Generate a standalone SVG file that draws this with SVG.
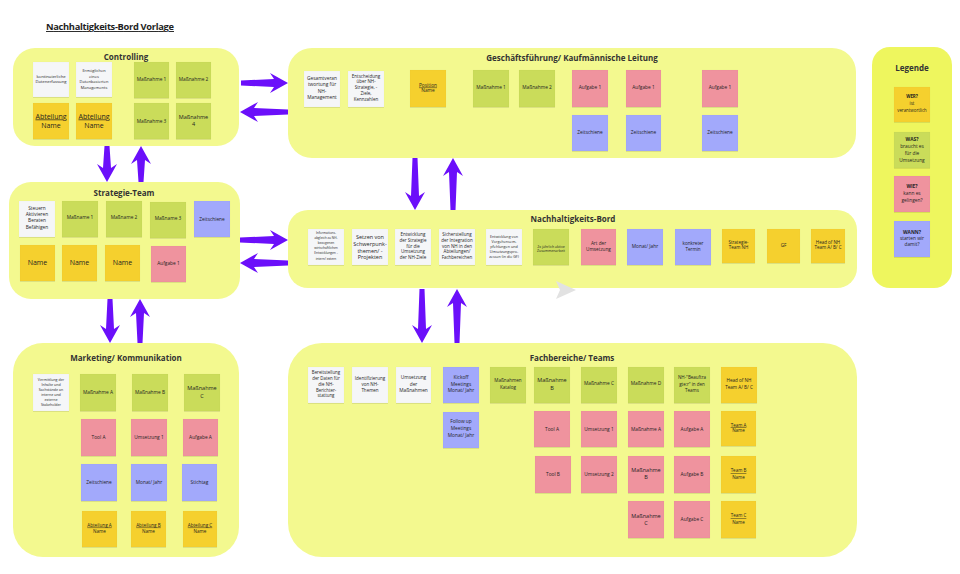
<svg xmlns="http://www.w3.org/2000/svg" width="960" height="574" viewBox="0 0 960 574">
<defs>
<filter id="sh" x="-10%" y="-10%" width="120%" height="130%"><feDropShadow dx="0" dy="0.6" stdDeviation="0.5" flood-color="#000" flood-opacity="0.15"/></filter>
<style>
.c{fill:#f3f98f}
.lg{fill:#eef65e}
.s{filter:url(#sh);stroke:rgba(0,0,0,0.05);stroke-width:0.4}
.w{fill:#f5f6f8}
.y{fill:#f5d02f}
.g{fill:#cadc5a}
.p{fill:#ef939e}
.b{fill:#a2a9fb}
text{font-family:"Open Sans","Liberation Sans",sans-serif;fill:#1f1f1f}
.t{text-anchor:middle;font-size:4.8px}
.h{font-size:8px;font-weight:700;text-anchor:middle;fill:#333}
.u{text-decoration:underline}
.bd{font-weight:700}
.arr{fill:#6b0ffa}
</style>
</defs>
<rect width="960" height="574" fill="#fff"/>
<text x="46" y="30" font-size="9.3" font-weight="700" fill="#333" text-decoration="underline" textLength="128">Nachhaltigkeits-Bord Vorlage</text>

<g id="controlling">
<rect class="c" x="13" y="48" width="226" height="98" rx="22"/>
<text class="h" x="126" y="60">Controlling</text>
<rect class="s w" x="33" y="62" width="36" height="35"/>
<text class="t" style="font-size:4.2px"><tspan x="51" y="77.7">kontinuierliche</tspan><tspan x="51" y="83.1">Datenerfassung</tspan></text>
<rect class="s w" x="76" y="62" width="36" height="35"/>
<text class="t" style="font-size:4px"><tspan x="94" y="72.4">Ermöglichen</tspan><tspan x="94" y="77.7">eines</tspan><tspan x="94" y="83.1">Datenbasierten</tspan><tspan x="94" y="88.7">Managements</tspan></text>
<rect class="s y" x="33" y="103" width="36" height="36"/>
<text class="t" style="font-size:7px"><tspan class="u" x="51" y="118.5">Abteilung</tspan><tspan x="51" y="127.5">Name</tspan></text>
<rect class="s y" x="76" y="103" width="36" height="36"/>
<text class="t" style="font-size:7px"><tspan class="u" x="94" y="118.5">Abteilung</tspan><tspan x="94" y="127.5">Name</tspan></text>
<rect class="s g" x="134" y="62" width="35" height="36"/>
<text class="t" x="151.5" y="81.2">Maßnahme 1</text>
<rect class="s g" x="176" y="62" width="35" height="36"/>
<text class="t" x="193.5" y="81.2">Maßnahme 2</text>
<rect class="s g" x="134" y="103" width="35" height="36"/>
<text class="t" x="151.5" y="122.6">Maßnahme 3</text>
<rect class="s g" x="176" y="103" width="35" height="36"/>
<text class="t" style="font-size:5.5px"><tspan x="193.5" y="118.6">Maßnahme</tspan><tspan x="193.5" y="126.2">4</tspan></text>
</g>

<g id="geschaeftsfuehrung">
<rect class="c" x="288" y="48" width="568" height="110" rx="24"/>
<text class="h" x="572" y="61">Geschäftsführung/ Kaufmännische Leitung</text>
<rect class="s w" x="304" y="71" width="36" height="36"/>
<text class="t"><tspan x="322" y="80">Gesamtveran</tspan><tspan x="322" y="86.4">twortung für</tspan><tspan x="322" y="92.7">NH-</tspan><tspan x="322" y="99">Management</tspan></text>
<rect class="s w" x="348" y="71" width="36" height="36"/>
<text class="t" style="font-size:4.5px"><tspan x="366" y="77.5">Entscheidung</tspan><tspan x="366" y="83.3">über NH-</tspan><tspan x="366" y="89.2">Strategie, -</tspan><tspan x="366" y="95">Ziele,</tspan><tspan x="366" y="100.8">Kennzahlen</tspan></text>
<rect class="s y" x="410" y="70" width="36" height="37"/>
<text class="t"><tspan class="u" x="428" y="86.6">Position</tspan><tspan x="428" y="92.3">Name</tspan></text>
<rect class="s g" x="473" y="70" width="36" height="37"/>
<text class="t" x="491" y="89.4">Maßnahme 1</text>
<rect class="s g" x="519" y="70" width="36" height="37"/>
<text class="t" x="537" y="89.4">Maßnahme 2</text>
<rect class="s p" x="572" y="70" width="36" height="37"/>
<text class="t" x="590" y="89.4">Aufgabe 1</text>
<rect class="s p" x="626" y="70" width="35" height="37"/>
<text class="t" x="643.5" y="89.4">Aufgabe 1</text>
<rect class="s p" x="702" y="70" width="36" height="37"/>
<text class="t" x="720" y="89.4">Aufgabe 1</text>
<rect class="s b" x="572" y="115" width="36" height="36"/>
<text class="t" x="590" y="134.4">Zeitschiene</text>
<rect class="s b" x="626" y="115" width="35" height="36"/>
<text class="t" x="643.5" y="134.4">Zeitschiene</text>
<rect class="s b" x="702" y="115" width="36" height="36"/>
<text class="t" x="720" y="134.4">Zeitschiene</text>
</g>

<g id="strategie-team">
<rect class="c" x="9" y="182" width="231" height="117" rx="22"/>
<text class="h" x="124" y="196">Strategie-Team</text>
<rect class="s w" x="19" y="201" width="36" height="36"/>
<text class="t"><tspan x="37" y="209.9">Steuern</tspan><tspan x="37" y="215.9">Aktivieren</tspan><tspan x="37" y="222.3">Beraten</tspan><tspan x="37" y="228.9">Befähigen</tspan></text>
<rect class="s g" x="62" y="201" width="36" height="36"/>
<text class="t" x="80" y="219.4">Maßname 1</text>
<rect class="s g" x="106" y="201" width="36" height="36"/>
<text class="t" x="124" y="219.4">Maßname 2</text>
<rect class="s g" x="150" y="202" width="36" height="36"/>
<text class="t" x="168" y="220.4">Maßname 3</text>
<rect class="s b" x="194" y="201" width="36" height="36"/>
<text class="t" x="212" y="220.7">Zeitschiene</text>
<rect class="s y" x="20" y="245" width="35" height="36"/>
<text class="t" style="font-size:7px" x="37.5" y="264.8">Name</text>
<rect class="s y" x="62" y="245" width="35" height="36"/>
<text class="t" style="font-size:7px" x="79.5" y="264.8">Name</text>
<rect class="s y" x="105" y="245" width="35" height="36"/>
<text class="t" style="font-size:7px" x="122.5" y="264.8">Name</text>
<rect class="s p" x="151" y="246" width="35" height="36"/>
<text class="t" x="168.5" y="265.4">Aufgabe 1</text>
</g>

<g id="nachhaltigkeits-bord">
<rect class="c" x="288" y="210" width="569" height="78" rx="20"/>
<text class="h" x="573" y="222">Nachhaltigkeits-Bord</text>
<polygon points="556,281 576,290 556,299 560,290" fill="#e2e2e2"/>
<rect class="s w" x="308" y="229" width="36" height="36"/>
<text class="t" style="font-size:3.2px"><tspan x="326" y="233.5">Informations-</tspan><tspan x="326" y="238.7">abgleich zu NH-</tspan><tspan x="326" y="243.9">bezogenen</tspan><tspan x="326" y="249.1">wirtschaftlichen</tspan><tspan x="326" y="254.3">Entwicklungen -</tspan><tspan x="326" y="259.5">intern/ extern</tspan></text>
<rect class="s w" x="352" y="229" width="36" height="36"/>
<text class="t" style="font-size:5.5px"><tspan x="370" y="239.2">Setzen von</tspan><tspan x="370" y="245.9">Schwerpunk-</tspan><tspan x="370" y="252.6">themen/ -</tspan><tspan x="370" y="259.2">Projekten</tspan></text>
<rect class="s w" x="395" y="229" width="36" height="36"/>
<text class="t" style="font-size:4.5px"><tspan x="413" y="235.8">Entwicklung</tspan><tspan x="413" y="241.5">der Strategie</tspan><tspan x="413" y="247.5">für die</tspan><tspan x="413" y="253.2">Umsetzung</tspan><tspan x="413" y="259.2">der NH-Ziele</tspan></text>
<rect class="s w" x="439" y="229" width="36" height="36"/>
<text class="t" style="font-size:4.5px"><tspan x="457" y="235.8">Sicherstellung</tspan><tspan x="457" y="241.5">der Integration</tspan><tspan x="457" y="247.5">von NH in den</tspan><tspan x="457" y="253.2">Abteilungen/</tspan><tspan x="457" y="259.2">Fachbereichen</tspan></text>
<rect class="s w" x="486" y="229" width="36" height="36"/>
<text class="t" style="font-size:3.7px"><tspan x="504" y="237.9">Entwicklung von</tspan><tspan x="504" y="242.9">Vorgehensem-</tspan><tspan x="504" y="247.9">pfehlungen und</tspan><tspan x="504" y="252.9">Umsetzungspro-</tspan><tspan x="504" y="257.9">zessen (in die GF)</tspan></text>
<rect class="s g" x="533" y="229" width="36" height="36"/>
<text class="t" style="font-size:3.5px"><tspan x="551" y="247.9">2x jährlich aktive</tspan><tspan x="551" y="252.2">Zusammenarbeit</tspan></text>
<rect class="s p" x="581" y="229" width="35" height="36"/>
<text class="t" style="font-size:4.7px"><tspan x="598.5" y="244.9">Art der</tspan><tspan x="598.5" y="250.9">Umsetzung</tspan></text>
<rect class="s b" x="627" y="229" width="36" height="36"/>
<text class="t" x="645" y="248.3">Monat/ Jahr</text>
<rect class="s b" x="675" y="229" width="36" height="36"/>
<text class="t" style="font-size:4.6px"><tspan x="693" y="244.9">konkreter</tspan><tspan x="693" y="250.9">Termin</tspan></text>
<rect class="s y" x="722" y="229" width="33" height="34"/>
<text class="t" style="font-size:4.5px"><tspan x="738.5" y="243.7">Strategie-</tspan><tspan x="738.5" y="249.2">Team NH</tspan></text>
<rect class="s y" x="767" y="229" width="33" height="34"/>
<text class="t" style="font-size:4.6px" x="783.5" y="246.5">GF</text>
<rect class="s y" x="811" y="229" width="34" height="34"/>
<text class="t" style="font-size:4.5px"><tspan x="828" y="243.7">Head of NH</tspan><tspan x="828" y="249.2">Team A/ B/ C</tspan></text>
</g>

<g id="legende">
<rect class="lg" x="872" y="47" width="80" height="241" rx="18"/>
<text class="h" x="912" y="71">Legende</text>
<rect class="s y" x="894" y="87" width="36" height="35"/>
<text class="t" style="font-size:4.4px"><tspan class="bd" x="912" y="98.2">WER?</tspan><tspan x="912" y="104.8">ist</tspan><tspan x="912" y="111.5">verantwortlich</tspan></text>
<rect class="s g" x="894" y="132" width="36" height="36"/>
<text class="t"><tspan class="bd" x="912" y="140.6">WAS?</tspan><tspan x="912" y="147.6">braucht es</tspan><tspan x="912" y="154.6">für die</tspan><tspan x="912" y="161.6">Umsetzung</tspan></text>
<rect class="s p" x="894" y="176" width="36" height="36"/>
<text class="t"><tspan class="bd" x="912" y="188.3">WIE?</tspan><tspan x="912" y="194.9">kann es</tspan><tspan x="912" y="201.6">gelingen?</tspan></text>
<rect class="s b" x="894" y="221" width="36" height="36"/>
<text class="t"><tspan class="bd" x="912" y="234.3">WANN?</tspan><tspan x="912" y="240.3">starten wir</tspan><tspan x="912" y="246.3">damit?</tspan></text>
</g>

<g id="marketing">
<rect class="c" x="13" y="343" width="226" height="214" rx="30"/>
<text class="h" x="126" y="361">Marketing/ Kommunikation</text>
<rect class="s w" x="33" y="374" width="36" height="37"/>
<text class="t" style="font-size:3.6px"><tspan x="51" y="380.5">Vermittlung der</tspan><tspan x="51" y="385.6">Inhalte und</tspan><tspan x="51" y="390.7">Sachstände an</tspan><tspan x="51" y="395.8">interne und</tspan><tspan x="51" y="400.9">externe</tspan><tspan x="51" y="406">Stakeholder</tspan></text>
<rect class="s g" x="80" y="374" width="36" height="37"/>
<text class="t" x="98" y="394">Maßnahme A</text>
<rect class="s g" x="132" y="374" width="36" height="37"/>
<text class="t" x="150" y="394">Maßnahme B</text>
<rect class="s g" x="184" y="374" width="36" height="37"/>
<text class="t" style="font-size:5.5px"><tspan x="202" y="390.2">Maßnahme</tspan><tspan x="202" y="397.9">C</tspan></text>
<rect class="s p" x="81" y="419" width="35" height="37"/>
<text class="t" x="98.5" y="439">Tool A</text>
<rect class="s p" x="131" y="419" width="36" height="37"/>
<text class="t" x="149" y="439">Umsetzung 1</text>
<rect class="s p" x="183" y="419" width="35" height="37"/>
<text class="t" x="200.5" y="439">Aufgabe A</text>
<rect class="s b" x="81" y="464" width="36" height="37"/>
<text class="t" x="99" y="484">Zeitschiene</text>
<rect class="s b" x="131" y="464" width="36" height="37"/>
<text class="t" x="149" y="484">Monat/ Jahr</text>
<rect class="s b" x="182" y="464" width="35" height="37"/>
<text class="t" x="199.5" y="484">Stichtag</text>
<rect class="s y" x="82" y="511" width="35" height="36"/>
<text class="t" style="font-size:4.6px"><tspan class="u" x="99.5" y="526.6">Abteilung A</tspan><tspan x="99.5" y="533.3">Name</tspan></text>
<rect class="s y" x="131" y="511" width="35" height="36"/>
<text class="t" style="font-size:4.6px"><tspan class="u" x="148.5" y="526.6">Abteilung B</tspan><tspan x="148.5" y="533.3">Name</tspan></text>
<rect class="s y" x="183" y="511" width="34" height="36"/>
<text class="t" style="font-size:4.6px"><tspan class="u" x="200" y="526.6">Abteilung C</tspan><tspan x="200" y="533.3">Name</tspan></text>
</g>

<g id="fachbereiche">
<rect class="c" x="288" y="343" width="569" height="214" rx="34"/>
<text class="h" x="572" y="361">Fachbereiche/ Teams</text>
<rect class="s w" x="308" y="367" width="36" height="36"/>
<text class="t" style="font-size:4.4px"><tspan x="326" y="373.8">Bereitstellung</tspan><tspan x="326" y="379.8">der Daten für</tspan><tspan x="326" y="385.5">die NH-</tspan><tspan x="326" y="391.5">Berichter-</tspan><tspan x="326" y="397.2">stattung</tspan></text>
<rect class="s w" x="352" y="367" width="36" height="36"/>
<text class="t" style="font-size:4.5px"><tspan x="370" y="379.8">Identifizierung</tspan><tspan x="370" y="385.5">von NH-</tspan><tspan x="370" y="391.5">Themen</tspan></text>
<rect class="s w" x="396" y="367" width="35" height="36"/>
<text class="t"><tspan x="413.5" y="378.9">Umsetzung</tspan><tspan x="413.5" y="385.6">der</tspan><tspan x="413.5" y="392.3">Maßnahmen</tspan></text>
<rect class="s b" x="443" y="367" width="36" height="36"/>
<text class="t"><tspan x="461" y="379.3">Kickoff</tspan><tspan x="461" y="385.6">Meetings</tspan><tspan x="461" y="392.3">Monat/ Jahr</tspan></text>
<rect class="s b" x="443" y="412" width="36" height="36"/>
<text class="t"><tspan x="461" y="423.3">Follow up</tspan><tspan x="461" y="429.9">Meetings</tspan><tspan x="461" y="436.6">Monat/ Jahr</tspan></text>
<rect class="s g" x="490" y="367" width="36" height="36"/>
<text class="t" style="font-size:4.6px"><tspan x="508" y="382.2">Maßnahmen</tspan><tspan x="508" y="388.8">Katalog</tspan></text>
<rect class="s g" x="534" y="367" width="36" height="36"/>
<text class="t" style="font-size:5.5px"><tspan x="552" y="381.9">Maßnahme</tspan><tspan x="552" y="389.6">B</tspan></text>
<rect class="s g" x="581" y="367" width="36" height="36"/>
<text class="t" x="599" y="385.3">Maßnahme C</text>
<rect class="s g" x="628" y="367" width="36" height="36"/>
<text class="t" x="646" y="385.3">Maßnahme D</text>
<rect class="s g" x="674" y="367" width="36" height="36"/>
<text class="t" style="font-size:4.5px"><tspan x="692" y="379.1">NH-"Beauftra</tspan><tspan x="692" y="385.7">gte:r" in den</tspan><tspan x="692" y="392.1">Teams</tspan></text>
<rect class="s y" x="721" y="367" width="36" height="36"/>
<text class="t" style="font-size:4.6px"><tspan x="739" y="382.2">Head of NH</tspan><tspan x="739" y="388.8">Team A/ B/ C</tspan></text>
<rect class="s p" x="534" y="411" width="36" height="36"/>
<text class="t" x="552" y="430.9">Tool A</text>
<rect class="s p" x="581" y="411" width="36" height="36"/>
<text class="t" x="599" y="430.9">Umsetzung 1</text>
<rect class="s p" x="628" y="411" width="36" height="36"/>
<text class="t" x="646" y="430.9">Maßnahme A</text>
<rect class="s p" x="674" y="411" width="36" height="36"/>
<text class="t" x="692" y="430.9">Aufgabe A</text>
<rect class="s y" x="721" y="411" width="35" height="35"/>
<text class="t" style="font-size:4.5px"><tspan class="u" x="738.5" y="426.5">Team A</tspan><tspan x="738.5" y="432.2">Name</tspan></text>
<rect class="s p" x="535" y="456" width="36" height="37"/>
<text class="t" x="553" y="475.6">Tool B</text>
<rect class="s p" x="581" y="456" width="36" height="37"/>
<text class="t" x="599" y="475.6">Umsetzung 2</text>
<rect class="s p" x="628" y="456" width="36" height="37"/>
<text class="t" style="font-size:5.5px"><tspan x="646" y="471.9">Maßnahme</tspan><tspan x="646" y="479.2">B</tspan></text>
<rect class="s p" x="674" y="456" width="36" height="37"/>
<text class="t" x="692" y="475.6">Aufgabe B</text>
<rect class="s y" x="721" y="456" width="35" height="37"/>
<text class="t" style="font-size:4.5px"><tspan class="u" x="738.5" y="472.2">Team B</tspan><tspan x="738.5" y="478.8">Name</tspan></text>
<rect class="s p" x="628" y="501" width="36" height="37"/>
<text class="t" style="font-size:5.5px"><tspan x="646" y="517.6">Maßnahme</tspan><tspan x="646" y="524.6">C</tspan></text>
<rect class="s p" x="674" y="501" width="36" height="37"/>
<text class="t" x="692" y="520.6">Aufgabe C</text>
<rect class="s y" x="721" y="501" width="35" height="37"/>
<text class="t" style="font-size:4.5px"><tspan class="u" x="738.5" y="517.2">Team C</tspan><tspan x="738.5" y="523.8">Name</tspan></text>
</g>

<g id="connectors">
<polygon class="arr" points="241,80.5 274,79 270,73 288,83 270,93 274,87 241,85.5"/>
<polygon class="arr" points="288,109.5 254,108 258,102 240,112 258,122 254,116 288,114.5"/>
<polygon class="arr" points="412.5,158 411,196 405,192 415,210 425,192 419,196 417.5,158"/>
<polygon class="arr" points="450.5,210 449,172 443,176 453,158 463,176 457,172 455.5,210"/>
<polygon class="arr" points="240,237.5 274,236 270,230 288,240 270,250 274,244 240,242.5"/>
<polygon class="arr" points="288,260.5 254,259 258,253 240,263 258,273 254,267 288,265.5"/>
<polygon class="arr" points="419.5,289 418,329 412,325 422,343 432,325 426,329 424.5,289"/>
<polygon class="arr" points="454.5,343 453,303 447,307 457,289 467,307 461,303 459.5,343"/>
<polygon class="arr" points="104.5,146 103,168 97,164 107,182 117,164 111,168 109.5,146"/>
<polygon class="arr" points="138.5,182 137,160 131,164 141,146 151,164 145,160 143.5,182"/>
<polygon class="arr" points="107.5,299 106,329 100,325 110,343 120,325 114,329 112.5,299"/>
<polygon class="arr" points="137.5,343 136,313 130,317 140,299 150,317 144,313 142.5,343"/>
</g>
</svg>
